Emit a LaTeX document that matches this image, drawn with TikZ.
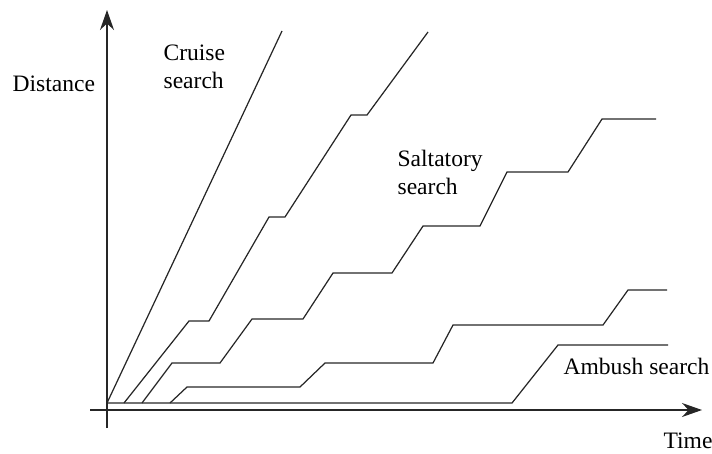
\documentclass[tikz,border=0pt]{standalone}
\usepackage{fontspec}
\setmainfont{Liberation Serif}
\usetikzlibrary{arrows.meta}
\begin{document}
\begin{tikzpicture}[x=0.02cm,y=-0.02cm,line width=0.7pt,draw=black!85,
  lbl/.style={inner sep=0pt,anchor=base west,align=left,font=\fontsize{13.4}{15.5}\selectfont},
  axis/.style={-{Stealth[length=0.4cm,width=0.28cm]}}]
\useasboundingbox (0,0) rectangle (712,453);
% axes
\coordinate (ybot) at (107,428);
\coordinate (ytop) at (107,10);
\coordinate (xleft) at (90,410);
\coordinate (xright) at (702,410);
\draw[axis] (ybot)--(ytop);
\draw[axis] (xleft)--(xright);
% cruise
\draw (107,403)--(282,31);
% saltatory, fast to slow
\draw (124,403)--(189,321)--(209,321)--(269,217)--(285,217)--(351,115)--(367,115)--(428,32);
\draw (142,403)--(172,363)--(220,363)--(252,319)--(303,319)--(333,273)--(392,273)--(423,226)--(480,226)--(507,172)--(568,172)--(602,119)--(656,119);
\draw (170,403)--(187,387)--(300,387)--(325,363)--(433,363)--(453,325)--(603,325)--(628,290)--(667,290);
% ambush
\draw (107,403)--(512,403)--(558,345)--(668,345);
% labels
\node[lbl] (distance) at (12,91) {Distance};
\node[lbl] (cruise) at (163,88) {Cruise\\search};
\node[lbl] (saltatory) at (397,194) {Saltatory\\search};
\node[lbl] (ambush) at (563,374) {Ambush search};
\node[lbl] (time) at (663,448) {Time};
\end{tikzpicture}
\end{document}
